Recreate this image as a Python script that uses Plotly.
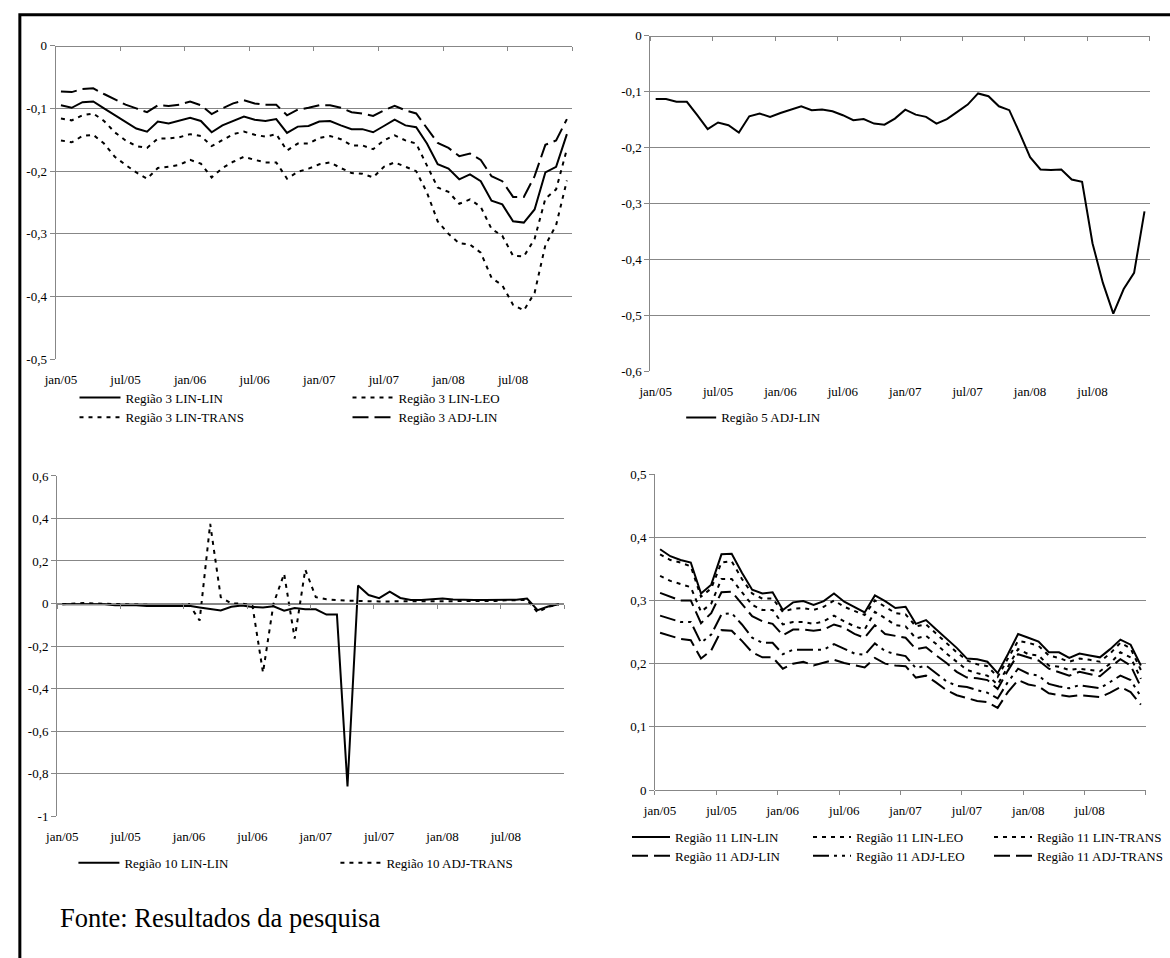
import plotly.graph_objects as go

W, H = 1170, 958
FONT = "Liberation Serif"
GRAY = "#878787"

# ---------------- categories ----------------
MONTH_NAMES = ["jan", "fev", "mar", "abr", "mai", "jun", "jul", "ago", "set", "out", "nov", "dez"]
YEARS = ["05", "06", "07", "08"]
MONTHS = [f"{m}/{y}" for y in YEARS for m in MONTH_NAMES]
X_TICK_LABELS = ["jan/05", "jul/05", "jan/06", "jul/06", "jan/07", "jul/07", "jan/08", "jul/08"]

# ---------------- Região 3 ----------------
R3_LIN_LIN = [-0.095, -0.099, -0.090, -0.089, -0.100, -0.111, -0.122, -0.132, -0.137, -0.121, -0.124, -0.119,
              -0.115, -0.120, -0.138, -0.127, -0.120, -0.113, -0.118, -0.120, -0.117, -0.139, -0.129, -0.128,
              -0.121, -0.120, -0.127, -0.133, -0.133, -0.138, -0.128, -0.118, -0.127, -0.130, -0.156, -0.189,
              -0.196, -0.213, -0.205, -0.216, -0.247, -0.253, -0.280, -0.282, -0.261, -0.202, -0.193, -0.141]
R3_LIN_LEO = [-0.116, -0.119, -0.111, -0.108, -0.120, -0.138, -0.151, -0.160, -0.163, -0.148, -0.148, -0.146,
              -0.141, -0.144, -0.160, -0.151, -0.141, -0.137, -0.142, -0.145, -0.141, -0.167, -0.156, -0.156,
              -0.147, -0.144, -0.149, -0.159, -0.159, -0.165, -0.151, -0.143, -0.151, -0.156, -0.190, -0.226,
              -0.233, -0.252, -0.245, -0.257, -0.292, -0.303, -0.335, -0.336, -0.308, -0.244, -0.229, -0.165]
R3_LIN_TRANS = [-0.151, -0.154, -0.144, -0.142, -0.156, -0.177, -0.190, -0.202, -0.212, -0.195, -0.193, -0.190,
                -0.182, -0.188, -0.210, -0.195, -0.185, -0.177, -0.182, -0.186, -0.186, -0.212, -0.201, -0.196,
                -0.189, -0.186, -0.195, -0.203, -0.204, -0.210, -0.193, -0.186, -0.193, -0.200, -0.234, -0.280,
                -0.300, -0.315, -0.317, -0.330, -0.370, -0.382, -0.413, -0.422, -0.394, -0.318, -0.286, -0.215]
R3_ADJ_LIN = [-0.073, -0.074, -0.069, -0.068, -0.077, -0.086, -0.094, -0.100, -0.106, -0.095, -0.096, -0.094,
              -0.089, -0.095, -0.109, -0.100, -0.092, -0.087, -0.092, -0.094, -0.094, -0.111, -0.102, -0.099,
              -0.095, -0.095, -0.099, -0.106, -0.108, -0.112, -0.103, -0.096, -0.103, -0.108, -0.132, -0.155,
              -0.163, -0.176, -0.172, -0.182, -0.208, -0.216, -0.241, -0.241, -0.208, -0.158, -0.151, -0.117]

# ---------------- Região 5 ----------------
R5_ADJ_LIN = [-0.113, -0.113, -0.118, -0.118, -0.142, -0.167, -0.155, -0.160, -0.173, -0.144, -0.139, -0.145,
              -0.138, -0.132, -0.126, -0.133, -0.132, -0.135, -0.142, -0.151, -0.149, -0.157, -0.159, -0.148,
              -0.132, -0.141, -0.145, -0.157, -0.149, -0.136, -0.123, -0.103, -0.108, -0.126, -0.133, -0.174,
              -0.217, -0.239, -0.240, -0.239, -0.257, -0.261, -0.371, -0.442, -0.497, -0.453, -0.424, -0.314]

# ---------------- Região 10 ----------------
R10_LIN_LIN = [-0.003, -0.003, 0.000, -0.003, -0.003, -0.008, -0.008, -0.008, -0.012, -0.012, -0.013, -0.010,
               -0.011, -0.019, -0.027, -0.033, -0.015, -0.009, -0.016, -0.019, -0.013, -0.034, -0.021, -0.027,
               -0.027, -0.052, -0.052, -0.860, 0.085, 0.040, 0.025, 0.056, 0.026, 0.017, 0.017, 0.020,
               0.023, 0.019, 0.017, 0.017, 0.017, 0.017, 0.017, 0.018, 0.023, -0.031, -0.014, -0.003]
R10_ADJ_TRANS = [-0.003, 0.000, 0.002, 0.000, -0.002, -0.003, -0.005, -0.005, -0.006, -0.008, -0.010, -0.008,
                 -0.003, -0.080, 0.375, 0.030, 0.000, 0.000, -0.010, -0.325, 0.000, 0.140, -0.165, 0.160,
                 0.030, 0.020, 0.015, 0.013, 0.012, 0.010, 0.010, 0.010, 0.010, 0.012, 0.012, 0.012,
                 0.012, 0.012, 0.012, 0.012, 0.012, 0.012, 0.015, 0.015, 0.017, -0.042, -0.015, -0.005]

# ---------------- Região 11 ----------------
R11_LIN_LIN = [0.381, 0.370, 0.364, 0.360, 0.311, 0.325, 0.373, 0.374, 0.344, 0.317, 0.311, 0.313,
               0.285, 0.297, 0.299, 0.293, 0.299, 0.311, 0.298, 0.290, 0.281, 0.308, 0.299, 0.288,
               0.290, 0.263, 0.269, 0.254, 0.240, 0.225, 0.208, 0.207, 0.203, 0.185, 0.215, 0.247,
               0.241, 0.235, 0.218, 0.218, 0.209, 0.216, 0.213, 0.210, 0.223, 0.238, 0.230, 0.197]
R11_LIN_LEO = [0.373, 0.364, 0.360, 0.354, 0.306, 0.319, 0.360, 0.362, 0.334, 0.311, 0.303, 0.303,
               0.282, 0.287, 0.288, 0.285, 0.290, 0.300, 0.290, 0.283, 0.277, 0.300, 0.290, 0.280,
               0.278, 0.259, 0.262, 0.247, 0.233, 0.218, 0.205, 0.199, 0.196, 0.179, 0.208, 0.236,
               0.233, 0.228, 0.213, 0.209, 0.203, 0.208, 0.206, 0.203, 0.216, 0.233, 0.224, 0.190]
R11_LIN_TRANS = [0.339, 0.331, 0.326, 0.321, 0.282, 0.295, 0.334, 0.334, 0.313, 0.293, 0.285, 0.285,
                 0.262, 0.266, 0.266, 0.263, 0.267, 0.276, 0.267, 0.259, 0.254, 0.282, 0.272, 0.261,
                 0.259, 0.240, 0.244, 0.231, 0.216, 0.203, 0.190, 0.185, 0.181, 0.167, 0.195, 0.223,
                 0.215, 0.213, 0.197, 0.195, 0.190, 0.192, 0.190, 0.188, 0.200, 0.218, 0.210, 0.176]
R11_ADJ_LIN = [0.312, 0.306, 0.300, 0.300, 0.264, 0.280, 0.313, 0.314, 0.295, 0.275, 0.267, 0.263,
               0.245, 0.254, 0.254, 0.252, 0.254, 0.262, 0.257, 0.247, 0.241, 0.261, 0.247, 0.244,
               0.241, 0.223, 0.226, 0.213, 0.201, 0.187, 0.178, 0.177, 0.174, 0.160, 0.189, 0.215,
               0.210, 0.205, 0.192, 0.187, 0.181, 0.187, 0.184, 0.180, 0.194, 0.207, 0.197, 0.163]
R11_ADJ_LEO = [0.276, 0.271, 0.266, 0.266, 0.233, 0.246, 0.278, 0.280, 0.262, 0.241, 0.233, 0.233,
               0.215, 0.222, 0.222, 0.221, 0.222, 0.231, 0.223, 0.216, 0.214, 0.232, 0.220, 0.215,
               0.212, 0.193, 0.197, 0.184, 0.172, 0.165, 0.163, 0.158, 0.154, 0.145, 0.171, 0.192,
               0.184, 0.181, 0.168, 0.164, 0.161, 0.166, 0.163, 0.161, 0.171, 0.181, 0.174, 0.148]
R11_ADJ_TRANS = [0.249, 0.244, 0.239, 0.237, 0.208, 0.221, 0.253, 0.252, 0.236, 0.218, 0.210, 0.210,
                 0.192, 0.200, 0.203, 0.197, 0.201, 0.206, 0.201, 0.197, 0.194, 0.209, 0.200, 0.197,
                 0.196, 0.178, 0.181, 0.170, 0.158, 0.150, 0.146, 0.141, 0.139, 0.130, 0.155, 0.174,
                 0.167, 0.164, 0.153, 0.150, 0.148, 0.150, 0.149, 0.147, 0.154, 0.163, 0.155, 0.135]

# ---------------- y tick labels ----------------
P1_YTICKS = [0, -0.1, -0.2, -0.3, -0.4, -0.5]
P1_YLABELS = ["0", "-0,1", "-0,2", "-0,3", "-0,4", "-0,5"]
P2_YTICKS = [0, -0.1, -0.2, -0.3, -0.4, -0.5, -0.6]
P2_YLABELS = ["0", "-0,1", "-0,2", "-0,3", "-0,4", "-0,5", "-0,6"]
P3_YTICKS = [0.6, 0.4, 0.2, 0, -0.2, -0.4, -0.6, -0.8, -1]
P3_YLABELS = ["0,6", "0,4", "0,2", "0", "-0,2", "-0,4", "-0,6", "-0,8", "-1"]
P4_YTICKS = [0, 0.1, 0.2, 0.3, 0.4, 0.5]
P4_YLABELS = ["0", "0,1", "0,2", "0,3", "0,4", "0,5"]

# ---------------- styles ----------------
SOLID = "solid"
DOT = "4px,5px"
LONG = "16px,6px"
LDD = "16px,5px,3px,5px,3px,5px"

# panel geometry in pixels: (left, right), (top, bottom)
PANELS = [
    dict(x=(44.4, 571.0), y=(39.3, 358.0), yr=(-0.5, 0.0), yt=P1_YTICKS, yl=P1_YLABELS),
    dict(x=(650.7, 1159.5), y=(29.3, 370.0), yr=(-0.6, 0.0), yt=P2_YTICKS, yl=P2_YLABELS),
    dict(x=(45.9, 562.6), y=(476.4, 822.0), yr=(-1.0, 0.6), yt=P3_YTICKS, yl=P3_YLABELS),
    dict(x=(655.3, 1155.7), y=(474.5, 795.5), yr=(0.0, 0.5), yt=P4_YTICKS, yl=P4_YLABELS),
]

SERIES = [
    (1, "Região 3 LIN-LIN", R3_LIN_LIN, SOLID, "legend"),
    (1, "Região 3 LIN-LEO", R3_LIN_LEO, DOT, "legend"),
    (1, "Região 3 LIN-TRANS", R3_LIN_TRANS, DOT, "legend2"),
    (1, "Região 3 ADJ-LIN", R3_ADJ_LIN, LONG, "legend2"),
    (2, "Região 5 ADJ-LIN", R5_ADJ_LIN, SOLID, "legend3"),
    (3, "Região 10 LIN-LIN", R10_LIN_LIN, SOLID, "legend4"),
    (3, "Região 10 ADJ-TRANS", R10_ADJ_TRANS, DOT, "legend4"),
    (4, "Região 11 LIN-LIN", R11_LIN_LIN, SOLID, "legend5"),
    (4, "Região 11 LIN-LEO", R11_LIN_LEO, DOT, "legend5"),
    (4, "Região 11 LIN-TRANS", R11_LIN_TRANS, DOT, "legend5"),
    (4, "Região 11 ADJ-LIN", R11_ADJ_LIN, LONG, "legend6"),
    (4, "Região 11 ADJ-LEO", R11_ADJ_LEO, LDD, "legend6"),
    (4, "Região 11 ADJ-TRANS", R11_ADJ_TRANS, LONG, "legend6"),
]

fig = go.Figure()
tfont = dict(family=FONT, size=13, color="black")

layout = dict(
    width=W, height=H, margin=dict(l=0, r=0, t=0, b=0),
    paper_bgcolor="white", plot_bgcolor="white",
    font=tfont, showlegend=True,
)

n_cat = len(MONTHS)
bounds = [k - 0.5 for k in range(0, n_cat + 1, 6)]

for n, p in enumerate(PANELS, start=1):
    sfx = "" if n == 1 else str(n)
    xid, yid = "x" + sfx, "y" + sfx
    dx = [p["x"][0] / W, p["x"][1] / W]
    dy = [1 - p["y"][1] / H, 1 - p["y"][0] / H]
    y0, y1 = p["yr"]
    zero_pos = dy[0] + (0 - y0) / (y1 - y0) * (dy[1] - dy[0])
    layout["xaxis" + sfx] = dict(
        domain=dx, type="category", range=[-0.5, n_cat - 0.5], anchor=yid,
        tickmode="array", tickvals=X_TICK_LABELS, ticktext=X_TICK_LABELS,
        ticks="", showline=False, showgrid=False, zeroline=False,
        tickfont=tfont, ticklabelstandoff=11, fixedrange=True,
    )
    layout["yaxis" + sfx] = dict(
        domain=dy, range=[y0, y1], anchor=xid,
        tickmode="array", tickvals=p["yt"], ticktext=p["yl"],
        ticks="outside", ticklen=5, tickcolor=GRAY, tickwidth=1,
        showline=True, linecolor=GRAY, linewidth=1,
        showgrid=True, gridcolor=GRAY, gridwidth=1, zeroline=False,
        tickfont=tfont, fixedrange=True,
    )
    t = n + 4
    layout[f"xaxis{t}"] = dict(
        overlaying=xid, anchor="free", position=zero_pos, side="bottom",
        type="linear", range=[-0.5, n_cat - 0.5],
        tickmode="array", tickvals=bounds, showticklabels=False,
        ticks="outside", ticklen=4, tickcolor=GRAY, tickwidth=1,
        showline=True, linecolor=GRAY, linewidth=1,
        showgrid=False, zeroline=False, fixedrange=True,
    )
    fig.add_trace(go.Scatter(x=[], y=[], xaxis=f"x{t}", yaxis=yid, showlegend=False, hoverinfo="skip"))

for n, name, vals, dash, lg in SERIES:
    sfx = "" if n == 1 else str(n)
    fig.add_trace(go.Scatter(
        x=MONTHS, y=vals, mode="lines", name=name,
        line=dict(color="black", width=2, dash=dash),
        xaxis="x" + sfx, yaxis="y" + sfx, legend=lg, showlegend=True,
    ))

LEG = dict(orientation="h", xanchor="left", yanchor="middle", bgcolor="rgba(0,0,0,0)",
           borderwidth=0, font=tfont, entrywidthmode="pixels", itemclick=False,
           itemdoubleclick=False, traceorder="normal", tracegroupgap=0)
layout["legend"] = dict(LEG, x=63.7 / W, y=1 - 396.7 / H, itemwidth=41, entrywidth=217)
layout["legend2"] = dict(LEG, x=63.7 / W, y=1 - 416.7 / H, itemwidth=41, entrywidth=217)
layout["legend3"] = dict(LEG, x=682 / W, y=1 - 417 / H, itemwidth=30, entrywidth=150)
layout["legend4"] = dict(LEG, x=62.6 / W, y=1 - 869.3 / H, itemwidth=41, entrywidth=206)
layout["legend5"] = dict(LEG, x=627 / W, y=1 - 843.3 / H, itemwidth=38, entrywidth=128)
layout["legend6"] = dict(LEG, x=627 / W, y=1 - 862.3 / H, itemwidth=38, entrywidth=128)

layout["annotations"] = [dict(
    text="Fonte: Resultados da pesquisa", xref="paper", yref="paper",
    x=46.7 / W, y=1 - 925 / H, xanchor="left", yanchor="middle", showarrow=False,
    font=dict(family=FONT, size=26.5, color="black"),
)]
layout["shapes"] = [dict(
    type="rect", xref="paper", yref="paper",
    x0=8 / W, x1=1.1, y0=-0.1, y1=1 - 8 / H,
    line=dict(color="black", width=3), fillcolor="rgba(0,0,0,0)", layer="above",
)]

fig.update_layout(**layout)
fig.write_html("out.html")
